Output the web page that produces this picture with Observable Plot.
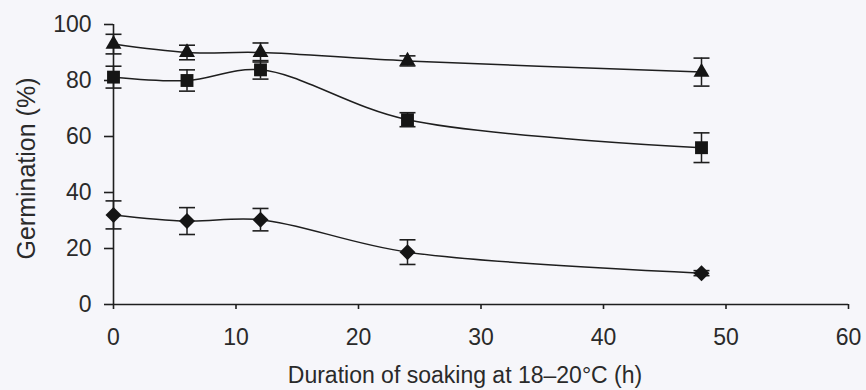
<!DOCTYPE html>
<html>
<head>
<meta charset="utf-8">
<script src="https://cdn.jsdelivr.net/npm/d3@7"></script>
<script src="https://cdn.jsdelivr.net/npm/@observablehq/plot@0.6"></script>
<style>
  html, body { margin: 0; padding: 0; background: #f6f6fa; }
  #chart svg { display: block; background: transparent; }
</style>
</head>
<body>
<div id="chart"></div>
<script>
// Duration of soaking (h)
const hours = [0, 6, 12, 24, 48];
// Germination (%) for the three series
const triangleValues = [93, 90, 90, 87, 83];
const triangleErrors = [3.5, 2.6, 3.4, 1.8, 5];
const squareValues = [81.2, 80, 83.8, 66, 56];
const squareErrors = [3.9, 3.8, 3.3, 2.5, 5.3];
const diamondValues = [32, 29.8, 30.3, 18.7, 11.2];
const diamondErrors = [5, 4.8, 4, 4.4, 0.9];
const seriesNames = ["triangle", "square", "diamond"];
const xTicks = [0, 10, 20, 30, 40, 50, 60];
const yTicks = [0, 20, 40, 60, 80, 100];
const xLabel = "Duration of soaking at 18–20°C (h)";
const yLabel = "Germination (%)";

const symbols = {triangle: "triangle2", square: "square2", diamond: "diamond2"};
const sizes = {triangle: 7.6, square: 8.2, diamond: 7.2};
const valuesBySeries = {triangle: triangleValues, square: squareValues, diamond: diamondValues};
const errorsBySeries = {triangle: triangleErrors, square: squareErrors, diamond: diamondErrors};

const rows = [];
for (const s of seriesNames) {
  hours.forEach((h, i) => {
    const v = valuesBySeries[s][i], e = errorsBySeries[s][i];
    rows.push({series: s, hours: h, value: v, lo: v - e, hi: v + e});
  });
}

// horizontal cap symbol for error bars
const cap = {
  draw(context, size) {
    const w = Math.sqrt(size / Math.PI);
    context.moveTo(-w, 0);
    context.lineTo(w, 0);
  }
};

const ink = "#1e1e1e";
const textInk = "#2a2a2a";
const font = "'Liberation Sans', Arial, Helvetica, sans-serif";

const plot = Plot.plot({
  width: 866,
  height: 390,
  marginLeft: 113,
  marginRight: 18,
  marginTop: 24,
  marginBottom: 86,
  style: {fontFamily: font, fontSize: "23px", color: textInk, background: "transparent"},
  x: {domain: [0, 60]},
  y: {domain: [0, 100]},
  marks: [
    Plot.axisX({ticks: xTicks, tickSize: 5, tickPadding: 19, label: null, stroke: ink, strokeWidth: 1.6, fontSize: 23}),
    Plot.axisY({ticks: yTicks, tickSize: 9, tickPadding: 13, label: null, stroke: ink, strokeWidth: 1.6, fontSize: 23}),
    Plot.ruleX([0], {stroke: ink, strokeWidth: 1.6}),
    Plot.ruleY([0], {stroke: ink, strokeWidth: 1.6}),
    Plot.ruleX(rows, {x: "hours", y1: "lo", y2: "hi", stroke: ink, strokeWidth: 1.5}),
    Plot.dot(rows, {x: "hours", y: "lo", symbol: cap, r: 8, stroke: ink, strokeWidth: 1.6, fill: "none"}),
    Plot.dot(rows, {x: "hours", y: "hi", symbol: cap, r: 8, stroke: ink, strokeWidth: 1.6, fill: "none"}),
    Plot.line(rows, {x: "hours", y: "value", z: "series", curve: "catmull-rom", stroke: ink, strokeWidth: 1.5}),
    ...seriesNames.map(s => Plot.dot(rows.filter(d => d.series === s), {
      x: "hours", y: "value", symbol: symbols[s], r: sizes[s], fill: "#151515", stroke: "none"
    })),
    Plot.text([xLabel], {frameAnchor: "bottom", dy: 71, dx: -16, text: d => d, fontSize: 23, fill: textInk, textAnchor: "middle", lineAnchor: "middle"}),
    Plot.text([yLabel], {frameAnchor: "left", dx: -87, dy: 4, rotate: -90, text: d => d, fontSize: 25, fill: textInk, textAnchor: "middle", lineAnchor: "middle"})
  ]
});
document.getElementById("chart").appendChild(plot);
</script>
</body>
</html>
